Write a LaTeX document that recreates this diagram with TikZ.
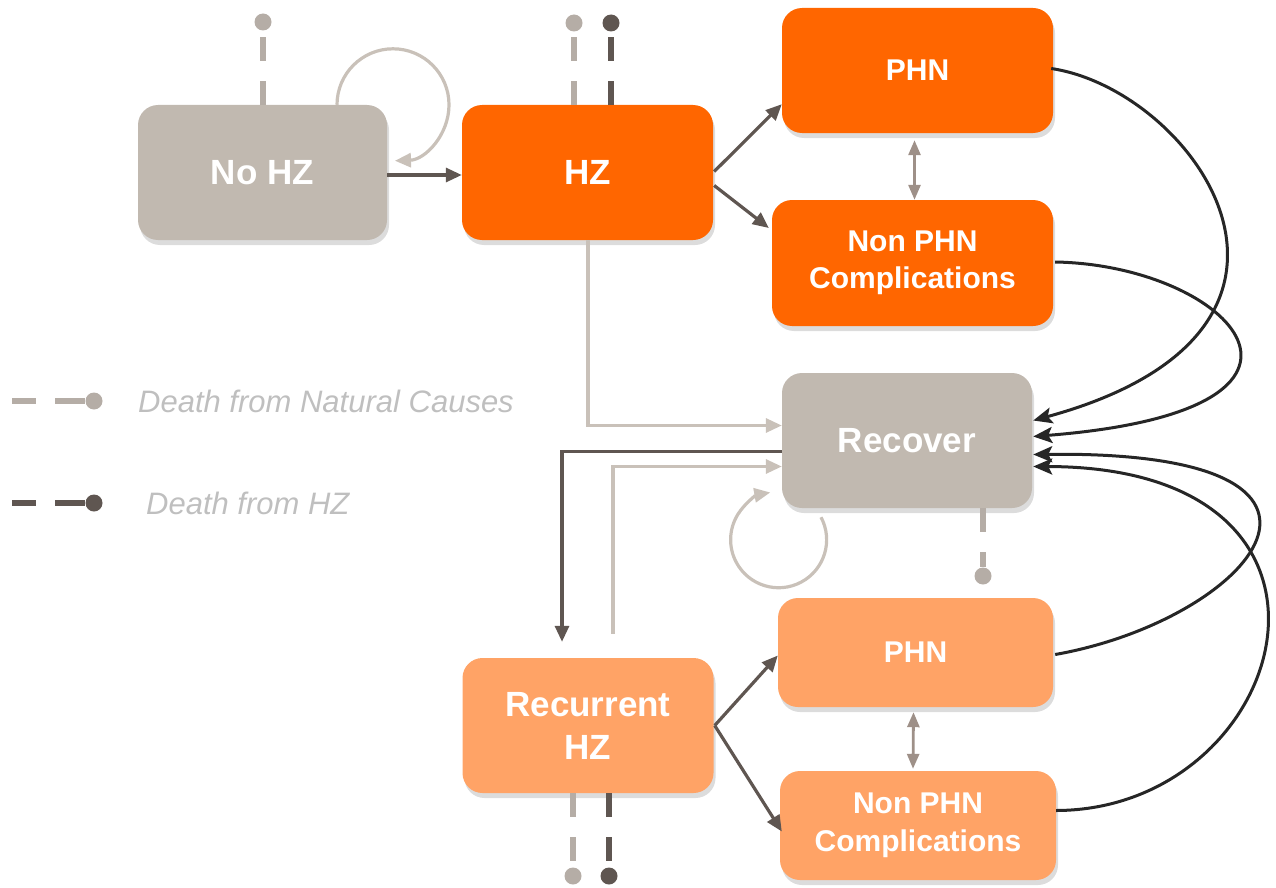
\documentclass[tikz,border=0pt]{standalone}
\usepackage{fontspec}
\setmainfont{Liberation Sans}
\usetikzlibrary{arrows.meta,shadows,calc}
\definecolor{cgray}{HTML}{C1B9B0}
\definecolor{corange}{HTML}{FF6600}
\definecolor{clorange}{HTML}{FFA366}
\definecolor{cdark}{HTML}{5F5651}
\definecolor{clight}{HTML}{C9C1B9}
\definecolor{cnat}{HTML}{B5ADA6}
\definecolor{cdbl}{HTML}{9E9088}
\definecolor{ccurve}{HTML}{262626}
\definecolor{clegend}{HTML}{BFBFBF}
\begin{document}
\begin{tikzpicture}[x=1pt,y=-1pt,
  box/.style={rounded corners=20pt, inner sep=0pt, text=white, align=center,
    drop shadow={shadow xshift=2pt,shadow yshift=-5pt,opacity=0.28}},
  bigtxt/.style={font=\bfseries\fontsize{35}{43}\selectfont},
  smalltxt/.style={font=\bfseries\fontsize{30}{37.5}\selectfont},
  darkarr/.style={draw=cdark, line width=3.2pt, -{Triangle[length=16pt,width=14pt]}},
  lightarr/.style={draw=clight, line width=3.2pt, -{Triangle[length=16pt,width=14pt]}},
  dblarr/.style={draw=cdbl, line width=2.8pt, {Triangle[length=15pt,width=12pt]}-{Triangle[length=15pt,width=12pt]}},
  curvearr/.style={draw=ccurve, line width=3pt, -{Stealth[length=19pt,width=16pt,inset=4pt]}},
  deathnat/.style={draw=cnat, line width=6pt, dash pattern=on 24pt off 20pt},
  deathhz/.style={draw=cdark, line width=6pt, dash pattern=on 24pt off 20pt},
  natdot/.style={circle, fill=cnat, inner sep=0pt, minimum size=17pt},
  hzdot/.style={circle, fill=cdark, inner sep=0pt, minimum size=17pt},
  legtxt/.style={text=clegend, font=\itshape\fontsize{31}{37}\selectfont, anchor=west, inner sep=0pt}
]
\useasboundingbox (0,0) rectangle (1276,888);

% boxes
\node[box, bigtxt, fill=cgray, minimum width=249pt, minimum height=135pt] (nohz) at (262.5,172.5) {No HZ};
\node[box, bigtxt, fill=corange, minimum width=251pt, minimum height=135pt] (hz) at (587.5,172.5) {HZ};
\node[box, smalltxt, fill=corange, minimum width=271pt, minimum height=125pt] (phn1) at (917.5,70.5) {PHN};
\node[box, smalltxt, fill=corange, minimum width=281pt, minimum height=126pt] (npc1) at (912.5,263) {Non PHN\\Complications};
\node[box, bigtxt, fill=cgray, minimum width=250pt, minimum height=135pt] (recover) at (907,440.5) {Recover};
\node[box, bigtxt, fill=clorange, minimum width=251pt, minimum height=135pt] (rhz) at (588,725.5) {Recurrent\\HZ};
\node[box, smalltxt, fill=clorange, minimum width=275pt, minimum height=109pt] (phn2) at (915.5,652.5) {PHN};
\node[box, smalltxt, fill=clorange, minimum width=276pt, minimum height=109pt] (npc2) at (918,825.5) {Non PHN\\Complications};

% death markers
\node[natdot] (d1) at (263,22) {};
\draw[deathnat] (d1 |- nohz.north) -- (d1);
\node[natdot] (d2) at (574,23) {};
\draw[deathnat] (d2 |- hz.north) -- (d2);
\node[hzdot] (d3) at (611,23) {};
\draw[deathhz] (d3 |- hz.north) -- (d3);
\node[natdot] (d4) at (983,576) {};
\draw[deathnat] (d4 |- recover.south) -- (d4);
\node[natdot] (d5) at (573,876) {};
\draw[deathnat] (d5 |- rhz.south) -- (d5);
\node[hzdot] (d6) at (609,876) {};
\draw[deathhz] (d6 |- rhz.south) -- (d6);

% legend
\coordinate (l1s) at (12,401);
\node[natdot] (l1d) at (94,401) {};
\draw[deathnat, dash pattern=on 24pt off 19pt on 50pt off 0pt] (l1s) -- (l1d);
\node[legtxt] (l1t) at (138,401) {Death from Natural Causes};
\coordinate (l2s) at (12,503);
\node[hzdot] (l2d) at (94,503) {};
\draw[deathhz, dash pattern=on 24pt off 19pt on 50pt off 0pt] (l2s) -- (l2d);
\node[legtxt] (l2t) at (146,503) {Death from HZ};

% arrows top
\draw[darkarr] (nohz.east |- 0,175) -- (hz.west |- 0,175);
\draw[lightarr] ($(nohz.north)+(74.5,0)$) arc[start angle=180, end angle=448, radius=56];
\draw[darkarr] ($(hz.east)+(1,-1)$) -- ($(phn1.south west)+(0,-29)$);
\draw[darkarr] ($(hz.east)+(1,13)$) -- ($(npc1.west)+(-3,-35)$);
\draw[dblarr] ($(phn1.south)+(-3,7)$) -- ($(npc1.north)+(2,0)$);

% recover connectors
\draw[lightarr] ($(hz.south)+(0.5,0)$) |- ($(recover.west)+(0,-15)$);
\coordinate (rdown) at ($(rhz.north)+(-26,-16)$);
\draw[darkarr] ($(recover.west)+(0,11)$) -| (rdown);
\draw[lightarr] ($(rhz.north)+(25,-24)$) |- ($(recover.west)+(0,26)$);
\coordinate (rloop) at ($(recover.south)+(-86,9)$);
\draw[lightarr] (rloop) arc[start angle=-28, end angle=260, radius=48];

% bottom
\draw[darkarr] ($(rhz.east)+(1,0)$) -- ($(phn2.west)+(0,3)$);
\draw[darkarr] ($(rhz.east)+(1,0)$) -- ($(npc2.west)+(2,6)$);
\draw[dblarr] ($(phn2.south)+(-2,5)$) -- ($(npc2.north)+(-5,-2)$);

% curves into recover
\draw[curvearr] ($(phn1.east)+(-2,-2)$) .. controls (1195,90) and (1365,330) .. ($(recover.east)+(1,-20)$);
\draw[curvearr] ($(npc1.east)+(2,-1)$) .. controls (1230,265) and (1370,410) .. ($(recover.east)+(1,-4)$);
\draw[curvearr] ($(phn2.east)+(2,2)$) .. controls (1250,620) and (1400,450) .. ($(recover.east)+(1,14)$);
\draw[curvearr] ($(npc2.east)+(0,-15)$) .. controls (1290,810) and (1388,467) .. ($(recover.east)+(1,26)$);
\end{tikzpicture}
\end{document}
